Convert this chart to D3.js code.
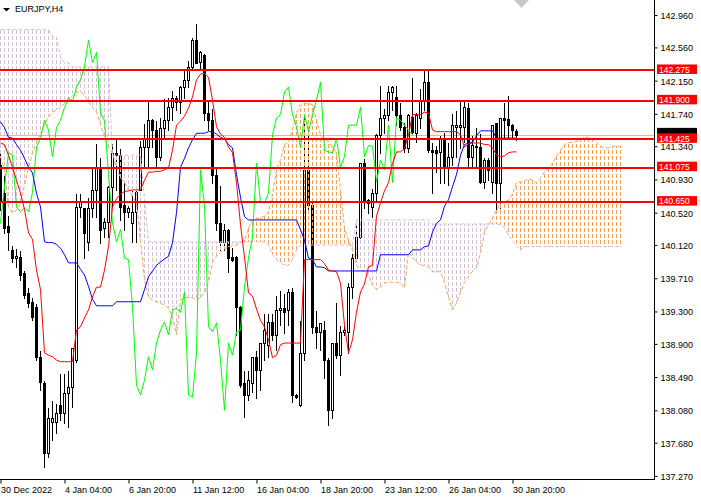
<!DOCTYPE html>
<html><head><meta charset="utf-8">
<script src="https://cdn.jsdelivr.net/npm/d3@7"></script>
<style>
body{margin:0;background:#fff;}
svg{display:block;font-family:"Liberation Sans",Arial,sans-serif;}
</style></head><body>
<svg id="chart" width="701" height="500"></svg>
<script>
const symbolTitle = "EURJPY,H4";
const timeLabels = ["30 Dec 2022","4 Jan 04:00","6 Jan 20:00","11 Jan 12:00","16 Jan 04:00","18 Jan 20:00","23 Jan 12:00","26 Jan 04:00","30 Jan 20:00"];
const timeLabelBars = [0,16,32,48,64,80,96,112,128];
const priceTicks = [142.960,142.560,142.150,141.740,141.340,140.930,140.520,140.120,139.710,139.300,138.900,138.490,138.080,137.680,137.270];
const levelPrices = [142.275,141.900,141.425,141.075,140.650];
const chikouShift = 26;

const opens = [
141.11,140.76,140.36,140.06,139.96,139.97,139.78,139.53,139.42,139.36,
138.74,138.42,137.55,137.94,137.94,138.15,138.05,138.29,138.37,138.70,
140.59,140.58,140.16,140.58,140.80,141.08,140.33,140.40,140.84,141.26,
141.23,140.61,140.53,140.39,140.53,140.80,141.33,141.33,141.66,141.54,
141.21,141.57,141.66,141.82,141.94,141.89,142.07,142.16,142.32,142.65,
142.38,142.47,141.75,141.66,140.99,140.39,140.16,140.31,139.97,139.97,
139.36,138.42,138.27,138.42,138.74,138.58,138.91,138.89,139.17,139.01,
139.32,139.34,139.32,139.54,138.27,138.15,138.79,141.05,140.61,139.11,
139.05,139.07,138.70,138.08,138.91,138.76,139.05,139.05,139.60,139.96,
140.22,141.13,140.68,140.59,140.76,141.48,141.69,141.73,142.01,141.95,
141.73,141.58,141.32,141.70,141.50,141.69,141.91,142.13,141.29,141.29,
141.27,141.44,141.08,141.21,141.58,141.58,141.58,141.81,141.21,141.33,
141.33,140.90,141.17,140.90,141.63,140.89,141.69,141.68,141.60,141.53];
const highs = [
141.26,140.99,140.49,140.12,140.08,140.06,139.81,139.60,139.48,139.41,
138.82,138.45,138.12,138.21,138.17,138.54,138.54,138.58,138.86,140.76,
140.76,140.59,140.71,141.08,141.38,141.21,140.47,140.86,141.38,141.45,
141.32,140.92,140.61,140.80,140.80,141.42,141.63,141.91,141.69,141.66,
141.70,141.94,141.95,142.03,141.97,142.10,142.28,142.40,142.69,142.86,
142.53,142.49,141.91,141.81,141.07,140.86,140.39,140.33,140.10,140.00,
139.38,138.58,138.58,138.74,138.82,138.91,139.28,139.28,139.28,139.50,
139.57,139.53,139.59,139.60,138.29,139.20,141.70,141.48,140.68,139.32,
139.17,139.20,138.74,138.92,139.42,139.13,139.13,139.66,140.02,140.39,
141.15,141.19,140.70,140.82,141.50,142.10,141.81,142.10,142.10,142.10,
141.89,141.64,141.75,142.19,141.76,142.06,142.28,142.28,141.39,141.36,
141.48,141.52,141.39,141.75,141.79,141.91,141.91,141.89,141.48,141.58,
141.50,141.21,141.21,141.62,141.64,141.70,141.89,141.97,141.63,141.56];
const lows = [
140.55,140.27,140.06,139.91,139.85,139.69,139.47,139.36,139.19,138.70,
138.33,137.38,137.50,137.71,137.80,137.96,137.92,137.87,138.12,138.68,
140.47,139.96,140.06,140.47,140.47,140.15,140.22,140.22,140.59,140.80,
140.43,140.31,140.47,140.16,140.16,140.80,141.08,141.08,141.33,141.08,
141.17,141.45,141.54,141.66,141.79,141.75,141.94,142.07,142.31,142.37,
142.28,141.66,141.54,140.89,140.31,140.06,140.06,139.79,139.92,139.01,
138.37,138.00,138.21,138.31,138.23,138.33,138.70,138.74,138.95,138.82,
139.13,139.03,139.13,138.18,138.23,138.13,138.70,140.55,139.03,138.85,
138.82,138.48,137.90,137.99,138.73,138.52,139.01,138.79,139.47,139.94,
140.21,140.58,140.52,140.47,140.68,141.26,141.50,141.66,141.79,141.60,
141.54,141.27,141.27,141.50,141.39,141.57,141.79,141.27,140.76,141.02,
140.89,140.89,140.86,141.11,141.21,141.32,141.39,141.08,141.08,141.08,
140.88,140.82,140.92,140.76,140.55,140.58,141.44,141.44,141.44,141.42];
const closes = [
140.68,140.33,140.28,139.96,139.99,139.75,139.50,139.40,139.23,138.74,
138.43,137.55,137.99,137.99,138.05,138.05,138.29,138.37,138.85,140.59,
140.65,140.27,140.58,140.80,141.08,140.31,140.40,140.84,141.26,141.23,
140.59,140.53,140.58,140.53,140.77,141.33,141.44,141.66,141.54,141.21,
141.57,141.66,141.82,141.94,141.89,142.07,142.16,142.32,142.65,142.37,
142.50,141.75,141.66,140.99,140.39,140.16,140.31,139.96,139.94,139.36,
138.39,138.27,138.45,138.74,138.58,138.91,139.07,139.17,139.01,139.32,
139.34,139.29,139.54,138.27,138.24,138.79,141.05,140.61,139.11,139.05,
139.16,138.70,138.08,138.91,138.76,139.05,139.07,139.60,139.96,140.22,
141.13,140.65,140.64,140.76,141.48,141.69,141.73,142.01,142.07,141.73,
141.58,141.32,141.73,141.52,141.73,141.91,142.13,141.29,141.27,141.26,
141.44,141.08,141.21,141.60,141.60,141.60,141.82,141.21,141.35,141.34,
140.90,141.17,141.05,141.60,140.89,141.69,141.66,141.60,141.54,141.48];

const tenkan = [
141.38,141.36,141.23,141.08,140.92,140.76,140.56,140.27,140.19,139.81,
139.57,138.79,138.76,138.74,138.70,138.68,138.68,138.68,138.68,139.07,
139.11,139.22,139.32,139.48,139.60,139.60,139.81,140.10,140.59,140.69,
140.75,140.78,140.79,140.80,140.80,140.80,140.92,141.02,141.02,141.03,
141.03,141.05,141.07,141.29,141.60,141.65,141.71,141.81,141.95,142.16,
142.23,142.24,142.19,141.91,141.58,141.49,141.45,141.33,141.26,140.89,
140.37,139.97,139.53,139.49,139.33,139.19,139.11,138.95,138.73,138.76,
138.89,138.91,138.91,138.91,138.91,138.91,139.94,139.94,139.94,139.94,
139.94,139.89,139.81,139.80,139.79,139.65,139.13,138.79,138.95,139.29,
139.54,139.64,139.85,139.87,140.48,140.64,140.79,140.89,141.13,141.27,
141.27,141.31,141.48,141.73,141.73,141.73,141.76,141.75,141.54,141.52,
141.52,141.52,141.52,141.52,141.52,141.48,141.33,141.37,141.38,141.38,
141.38,141.36,141.36,141.32,141.23,141.21,141.22,141.26,141.27,141.27];
const kijun = [
141.64,141.57,141.45,141.44,141.36,141.29,141.19,141.08,141.01,140.76,
140.59,140.16,140.15,140.15,140.13,140.08,140.00,139.90,139.90,139.90,
139.82,139.75,139.61,139.45,139.37,139.37,139.37,139.37,139.37,139.42,
139.42,139.42,139.42,139.42,139.42,139.42,139.57,139.73,139.80,139.87,
139.91,139.95,139.98,140.15,140.52,141.08,141.19,141.32,141.42,141.50,
141.50,141.50,141.52,141.52,141.49,141.45,141.43,141.36,141.32,140.99,
140.71,140.47,140.43,140.43,140.43,140.43,140.43,140.43,140.43,140.43,
140.43,140.43,140.43,140.43,140.43,140.31,140.18,139.96,139.94,139.85,
139.85,139.84,139.80,139.80,139.80,139.80,139.80,139.80,139.80,139.80,
139.80,139.80,139.80,139.80,139.80,140.00,140.00,140.00,140.00,140.00,
140.00,140.00,140.00,140.06,140.06,140.06,140.10,140.11,140.28,140.39,
140.43,140.60,140.68,140.84,140.99,141.23,141.36,141.38,141.39,141.47,
141.53,141.53,141.53,141.53,141.44,141.44,141.44,141.44,141.44,141.44];
const spanA = [
141.21,141.05,140.59,140.52,140.55,140.64,140.86,141.07,141.26,141.38,
141.50,141.60,141.70,141.76,141.79,141.82,141.87,141.91,141.96,142.01,
142.01,141.97,141.89,141.82,141.76,141.61,141.45,141.33,141.26,141.07,
140.95,140.89,140.80,140.71,140.64,140.18,139.69,139.48,139.44,139.42,
139.40,139.38,139.34,139.23,139.01,139.44,139.47,139.47,139.47,139.44,
139.47,139.54,139.66,139.91,139.98,140.03,140.07,140.10,140.11,140.12,
140.15,140.18,140.33,140.43,140.45,140.45,140.48,140.53,140.74,141.05,
141.17,141.36,141.39,141.54,141.76,141.85,141.87,141.87,141.85,141.66,
141.48,141.42,141.40,141.33,141.27,140.80,140.33,140.18,140.06,139.87,
139.81,139.79,139.75,139.63,139.57,139.60,139.65,139.66,139.66,139.66,
139.65,139.59,140.03,139.97,139.91,139.87,139.87,139.85,139.79,139.79,
139.79,139.66,139.48,139.32,139.40,139.54,139.66,139.73,139.80,139.84,
140.02,140.28,140.37,140.45,140.55,140.64,140.65,140.68,140.75,140.89,
140.90,140.91,140.94,140.92,140.89,140.95,141.02,141.07,141.13,141.22,
141.29,141.36,141.38,141.39,141.40,141.43,141.45,141.45,141.43,141.39,
141.34,141.32,141.32,141.34,141.34,141.34];
const spanB = [
142.78,142.78,142.78,142.78,142.78,142.78,142.78,142.78,142.78,142.78,
142.78,142.78,142.78,142.69,142.69,142.44,142.37,142.37,142.32,142.32,
142.32,142.32,142.32,142.32,142.32,142.32,142.32,142.32,141.23,141.23,
141.23,141.23,141.23,141.23,141.23,141.23,140.68,140.16,140.16,140.16,
140.16,140.16,140.16,140.16,140.16,140.16,140.16,140.16,140.16,140.16,
140.16,140.16,140.16,140.16,140.16,140.16,140.16,140.16,140.16,140.16,
140.16,140.16,140.16,140.16,140.16,140.16,140.16,140.12,140.00,139.94,
139.90,139.87,139.87,139.94,140.06,140.12,140.12,140.12,140.12,140.12,
140.12,140.12,140.12,140.12,140.12,140.12,140.12,140.12,140.12,140.43,
140.43,140.43,140.43,140.43,140.43,140.43,140.43,140.43,140.43,140.43,
140.43,140.43,140.43,140.43,140.43,140.43,140.43,140.43,140.38,140.38,
140.38,140.38,140.38,140.38,140.38,140.38,140.38,140.38,140.38,140.38,
140.38,140.38,140.38,140.38,140.38,140.37,140.33,140.24,140.18,140.11,
140.06,140.10,140.10,140.10,140.10,140.10,140.10,140.10,140.10,140.10,
140.10,140.10,140.10,140.10,140.10,140.10,140.10,140.10,140.10,140.10,
140.10,140.10,140.10,140.10,140.10,140.10];

const plotRight = 654, plotBottom = 479;
const svg = d3.select("#chart");
const x = d3.scaleLinear().domain([0, 163.5]).range([0.5, 654.5]);
const y = d3.scaleLinear().domain([142.96, 137.27]).range([15, 475.9]);
const Y = v => Math.round(y(v)) + 0.5;

svg.append("defs").append("clipPath").attr("id","clip")
  .append("rect").attr("x",0).attr("y",0).attr("width",plotRight).attr("height",plotBottom);

const plot = svg.append("g").attr("clip-path","url(#clip)");

// bid line
const lastClose = closes[closes.length-1];
plot.append("line").attr("x1",0).attr("x2",plotRight).attr("y1",Y(lastClose)).attr("y2",Y(lastClose))
  .attr("stroke","#c0c0c0").attr("stroke-width",1);

// candles
const bars = d3.range(closes.length);
const cg = plot.append("g");
cg.selectAll("line.wick").data(bars).join("line").attr("class","wick")
  .attr("x1",i=>x(i)).attr("x2",i=>x(i))
  .attr("y1",i=>Y(highs[i])).attr("y2",i=>Y(lows[i])+0.5)
  .attr("stroke","#000").attr("stroke-width",1).attr("shape-rendering","crispEdges");
cg.selectAll("rect.body").data(bars).join("rect").attr("class","body")
  .attr("x",i=>x(i)-1)
  .attr("y",i=>Y(Math.max(opens[i],closes[i])))
  .attr("width",2)
  .attr("height",i=>Math.max(0, Y(Math.min(opens[i],closes[i])) - Y(Math.max(opens[i],closes[i]))))
  .attr("fill",i=>closes[i]>=opens[i]?"#fff":"#000")
  .attr("stroke","#000").attr("stroke-width",1).attr("shape-rendering","crispEdges");

// cloud hatch
const orange = "#F4A460", plum = "#D8BFD8";
const cloudBars = d3.range(spanA.length);
plot.append("g").selectAll("line").data(cloudBars).join("line")
  .attr("x1",i=>x(i)).attr("x2",i=>x(i))
  .attr("y1",i=>Math.round(Math.min(y(spanA[i]),y(spanB[i]))))
  .attr("y2",i=>Math.round(Math.max(y(spanA[i]),y(spanB[i]))))
  .attr("stroke",i=>spanA[i]>=spanB[i]?orange:plum)
  .attr("stroke-width",1)
  .attr("stroke-dasharray","4,2")
  .attr("stroke-dashoffset",i=>Math.round(Math.min(y(spanA[i]),y(spanB[i])))%6)
  .attr("shape-rendering","crispEdges");

const lineGen = d3.line().x(d=>x(d[0])).y(d=>y(d[1]));
const toPts = arr => arr.map((v,i)=>[i,v]);
plot.append("path").attr("d",lineGen(toPts(spanA))).attr("fill","none")
  .attr("stroke",orange).attr("stroke-width",1).attr("stroke-dasharray","4,2");
plot.append("path").attr("d",lineGen(toPts(spanB))).attr("fill","none")
  .attr("stroke",plum).attr("stroke-width",1).attr("stroke-dasharray","4,2");

// chikou (close prices plotted 26 bars back)
plot.append("path").attr("d",lineGen(closes.map((v,i)=>[i-chikouShift,v]))).attr("fill","none")
  .attr("stroke","#00FF00").attr("stroke-width",1);
plot.append("path").attr("d",lineGen(toPts(kijun))).attr("fill","none")
  .attr("stroke","#0000FF").attr("stroke-width",1);
plot.append("path").attr("d",lineGen(toPts(tenkan))).attr("fill","none")
  .attr("stroke","#FF0000").attr("stroke-width",1);

// horizontal levels
plot.selectAll("line.level").data(levelPrices).join("line").attr("class","level")
  .attr("x1",0).attr("x2",plotRight)
  .attr("y1",d=>Math.round(y(d))).attr("y2",d=>Math.round(y(d)))
  .attr("stroke","#FF0000").attr("stroke-width",2).attr("shape-rendering","crispEdges");

// axes
const fmt = d3.format(".3f");
const ay = svg.append("g").attr("transform",`translate(${plotRight+0.5},0)`)
  .call(d3.axisRight(y).tickValues(priceTicks).tickSize(3).tickPadding(3).tickFormat(fmt));
ay.select(".domain").remove();
ay.selectAll(".tick line").attr("stroke","#000");
ay.selectAll("text").attr("fill","#000").attr("dy","0.38em")
  .style("font-size","9px").style("font-family","'Liberation Sans',Arial,sans-serif");

const ax = svg.append("g").attr("transform",`translate(0,${plotBottom+0.5})`)
  .call(d3.axisBottom(x).tickValues(timeLabelBars).tickSize(4).tickPadding(3).tickFormat((d,i)=>timeLabels[i]));
ax.select(".domain").remove();
ax.selectAll(".tick line").attr("stroke","#000");
ax.selectAll("text").attr("fill","#000").attr("text-anchor","start").attr("x",0)
  .style("font-size","9px").style("font-family","'Liberation Sans',Arial,sans-serif");

svg.append("line").attr("x1",plotRight+0.5).attr("x2",plotRight+0.5).attr("y1",0).attr("y2",plotBottom+1)
  .attr("stroke","#000").attr("stroke-width",1);
svg.append("line").attr("x1",0).attr("x2",plotRight+1).attr("y1",plotBottom+0.5).attr("y2",plotBottom+0.5)
  .attr("stroke","#000").attr("stroke-width",1);

// price labels (current-price marker sits behind the 141.425 level label)
const lc = y(lastClose);
svg.append("rect").attr("x",plotRight+3).attr("y",lc-7).attr("width",40).attr("height",10).attr("fill","#000");
levelPrices.forEach(v=>{
  const yc = y(v);
  svg.append("rect").attr("x",plotRight+3).attr("y",yc-6).attr("width",40).attr("height",9.5).attr("fill","#FF0000");
  svg.append("text").attr("x",plotRight+5).attr("y",yc+2.2).attr("fill","#fff")
    .style("font-size","8.5px").text(fmt(v));
});

// title
svg.append("path").attr("d","M3,8 L10,8 L6.5,11.5 Z").attr("fill","#000");
svg.append("text").attr("x",15).attr("y",12).attr("fill","#000").style("font-size","9px").text(symbolTitle);
// shift marker
svg.append("path").attr("d","M514,0 L529,0 L521.5,8 Z").attr("fill","#c8c8c8");
</script>
</body></html>
